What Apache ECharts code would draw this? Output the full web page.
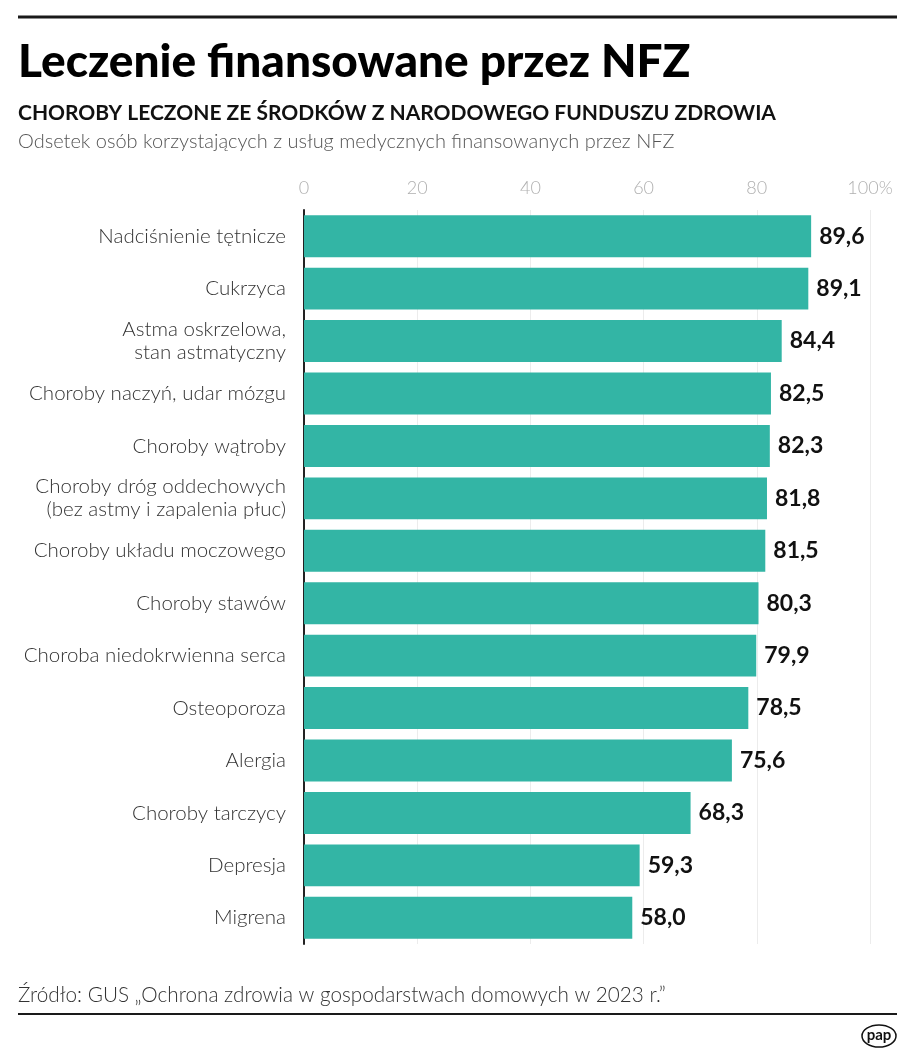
<!DOCTYPE html>
<html>
<head>
<meta charset="utf-8">
<script src="https://cdn.jsdelivr.net/npm/echarts@6/dist/echarts.min.js"></script>
<style>
html,body{margin:0;padding:0;background:#fff;}
#chart{width:915px;height:1061px;}
</style>
</head>
<body>
<div id="chart"></div>
<script>
const categories = [
  "Nadciśnienie tętnicze",
  "Cukrzyca",
  "Astma oskrzelowa,\nstan astmatyczny",
  "Choroby naczyń, udar mózgu",
  "Choroby wątroby",
  "Choroby dróg oddechowych\n(bez astmy i zapalenia płuc)",
  "Choroby układu moczowego",
  "Choroby stawów",
  "Choroba niedokrwienna serca",
  "Osteoporoza",
  "Alergia",
  "Choroby tarczycy",
  "Depresja",
  "Migrena"
];
const values = [89.6, 89.1, 84.4, 82.5, 82.3, 81.8, 81.5, 80.3, 79.9, 78.5, 75.6, 68.3, 59.3, 58.0];
const axisTicks = [0, 20, 40, 60, 80, 100];

const title = "Leczenie finansowane przez NFZ";
const subtitle = "CHOROBY LECZONE ZE ŚRODKÓW Z NARODOWEGO FUNDUSZU ZDROWIA";
const description = "Odsetek osób korzystających z usług medycznych finansowanych przez NFZ";
const source = "Źródło: GUS „Ochrona zdrowia w gospodarstwach domowych w 2023 r.”";

const FONT = "Lato";
const chart = echarts.init(document.getElementById('chart'), null, {renderer: 'canvas'});
chart.setOption({
  backgroundColor: '#ffffff',
  animation: false,
  textStyle: {fontFamily: FONT},
  grid: {left: 304, right: 45, top: 210, bottom: 1061 - 944, containLabel: false},
  xAxis: {
    type: 'value', position: 'top', min: 0, max: 100, interval: 20,
    axisLine: {show: false}, axisTick: {show: false},
    axisLabel: {
      color: '#b0b0b0', fontSize: 18, fontFamily: FONT, fontWeight: 300, margin: 13,
      formatter: v => axisTicks.indexOf(v) === axisTicks.length - 1 ? v + '%' : String(v)
    },
    splitLine: {show: true, lineStyle: {color: '#ececec', width: 1}}
  },
  yAxis: {
    type: 'category', inverse: true, data: categories,
    axisLine: {show: true, lineStyle: {color: '#222', width: 2}},
    axisTick: {show: false},
    axisLabel: {color: '#333', fontSize: 20.5, fontFamily: FONT, fontWeight: 300, margin: 18, lineHeight: 23, align: 'right'}
  },
  series: [{
    type: 'bar', data: values, barCategoryGap: '20%',
    itemStyle: {color: '#33b5a5'},
    label: {
      show: true, position: 'right', distance: 8,
      color: '#111', fontSize: 23, fontWeight: 'bold', fontFamily: FONT,
      formatter: p => p.value.toFixed(1).replace('.', ',')
    }
  }],
  graphic: [
    {type: 'line', shape: {x1: 18, y1: 17, x2: 897, y2: 17}, style: {stroke: '#1a1a1a', lineWidth: 3}},
    {type: 'text', left: 18, top: 39, style: {text: title, font: '900 46px ' + FONT, fill: '#000'}},
    {type: 'text', left: 18, top: 103, style: {text: subtitle, font: 'bold 21px ' + FONT, fill: '#111'}},
    {type: 'text', left: 18, top: 132, style: {text: description, font: '300 20px ' + FONT, fill: '#555'}},
    {type: 'text', left: 18, top: 985, style: {text: source, font: '300 20.7px ' + FONT, fill: '#333'}},
    {type: 'line', shape: {x1: 18, y1: 1014, x2: 897, y2: 1014}, style: {stroke: '#1a1a1a', lineWidth: 2}},
    {type: 'ellipse', shape: {cx: 879, cy: 1036, rx: 17, ry: 11}, style: {fill: '#fff', stroke: '#111', lineWidth: 1.5}},
    {type: 'text', x: 879, y: 1035, style: {text: 'pap', font: 'bold 15px ' + FONT, fill: '#111', align: 'center', verticalAlign: 'middle'}}
  ]
});
</script>
</body>
</html>
